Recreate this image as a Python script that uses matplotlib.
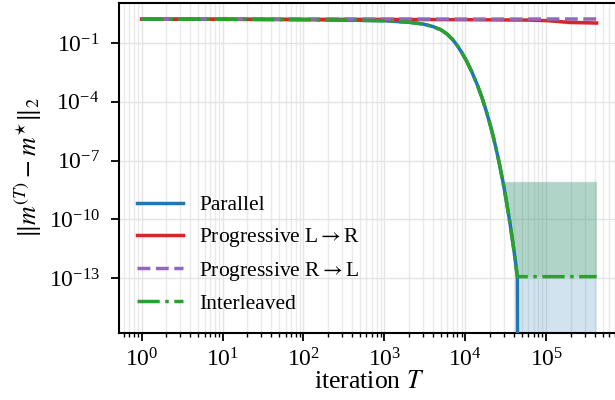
import numpy as np
import matplotlib
matplotlib.use("Agg")
import matplotlib.pyplot as plt
from matplotlib.ticker import FixedLocator, NullLocator, LogFormatterSciNotation

plt.rcParams['font.family'] = 'serif'
plt.rcParams['font.serif'] = ['Liberation Serif', 'DejaVu Serif']
plt.rcParams['mathtext.fontset'] = 'stix'

# ---- data ----
T_par = [1, 10, 100, 300, 1000, 1500, 2000, 3000, 4000, 5000, 6000, 7000, 8000, 9000,
         10000, 10520, 12000, 14000, 16000, 18000, 20000, 22000, 24000, 26000, 28000,
         30000, 32000, 34000, 36000, 38000, 40000, 42000, 44000, 44800, 420000]
err_par = [1.65, 1.62, 1.55, 1.48, 1.37, 1.23, 1.15, 0.93, 0.69, 0.47, 0.28, 0.148, 0.072, 0.034,
           0.0158, 0.0107, 3.5e-3, 7.8e-4, 1.74e-4, 3.8e-5, 8.5e-6, 1.9e-6, 4.2e-7, 9.3e-8, 2.0e-8,
           4.6e-9, 1.0e-9, 2.2e-10, 5.0e-11, 1.1e-11, 2.5e-12, 5.4e-13, 1.2e-13, 1e-30, 1e-30]

T_int = [1, 10, 100, 300, 1000, 1500, 2000, 3000, 4000, 5000, 6000, 7000, 8000, 9000,
         10000, 10520, 12000, 14000, 16000, 18000, 20000, 22000, 24000, 26000, 28000,
         30000, 32000, 34000, 36000, 38000, 40000, 42000, 44000, 420000]
err_int = [1.65, 1.62, 1.55, 1.48, 1.37, 1.23, 1.15, 0.93, 0.69, 0.47, 0.28, 0.148, 0.072, 0.034,
           0.0158, 0.0107, 3.5e-3, 7.8e-4, 1.74e-4, 3.8e-5, 8.5e-6, 1.9e-6, 4.2e-7, 9.3e-8, 2.0e-8,
           4.6e-9, 1.0e-9, 2.2e-10, 5.0e-11, 1.1e-11, 2.5e-12, 5.4e-13, 1.2e-13, 1.2e-13]

T_lr = [1, 10, 100, 1000, 10000, 60000, 106000, 190000, 420000]
err_lr = [1.65, 1.64, 1.62, 1.6, 1.55, 1.48, 1.37, 1.14, 1.05]
err_lr_lo = [1.65, 1.64, 1.62, 1.6, 1.55, 1.45, 1.25, 0.9, 0.87]

T_rl = [1, 10, 100, 1000, 10000, 100000, 420000]
err_rl = [1.65, 1.65, 1.65, 1.66, 1.66, 1.67, 1.68]

band_top = 8.3e-9

x_major_ticks = [1e0, 1e1, 1e2, 1e3, 1e4, 1e5]
y_major_ticks = [1e-13, 1e-10, 1e-7, 1e-4, 1e-1]

labels = ['Parallel', r'Progressive L$\rightarrow$R', r'Progressive R$\rightarrow$L', 'Interleaved']
colors = ['#1f77b4', '#d62728', '#9467bd', '#2ca02c']

# ---- figure ----
fig = plt.figure(figsize=(6.15, 4.0), dpi=100)
ax = fig.add_axes([119 / 615, 67 / 400, 500 / 615, 330 / 400])
ax.set_xscale('log')
ax.set_yscale('log')

lw = 2.5
ax.plot(T_par, err_par, color=colors[0], lw=lw, ls='-', label=labels[0], zorder=3)
ax.plot(T_lr, err_lr, color=colors[1], lw=lw, ls='-', label=labels[1], zorder=3)
ax.plot(T_rl, err_rl, color=colors[2], lw=lw, ls='--', label=labels[2], zorder=3)
ax.plot(T_int, err_int, color=colors[3], lw=lw, ls='-.', label=labels[3], zorder=3)

# uncertainty bands
for T, e, c in [(T_par, err_par, colors[0]), (T_int, err_int, colors[3])]:
    T = np.array(T, float)
    e = np.array(e, float)
    ax.fill_between(T, e, band_top, where=e <= band_top, interpolate=True,
                    color=c, alpha=0.2, lw=0, zorder=1)
ax.fill_between(T_lr, err_lr_lo, err_lr, color=colors[1], alpha=0.2, lw=0, zorder=1)

ax.set_ylim(1.6e-16, 11)
ax.set_xlim(10 ** -0.28, 10 ** 5.9)

minor_x = [m * d for d in [1e-1, 1e0, 1e1, 1e2, 1e3, 1e4, 1e5] for m in range(2, 10)]
minor_x = [v for v in minor_x if 10 ** -0.28 <= v <= 10 ** 5.9]
ax.xaxis.set_major_locator(FixedLocator(x_major_ticks))
ax.xaxis.set_major_formatter(LogFormatterSciNotation())
ax.xaxis.set_minor_locator(FixedLocator(minor_x))
ax.yaxis.set_major_locator(FixedLocator(y_major_ticks))
ax.yaxis.set_major_formatter(LogFormatterSciNotation())
ax.yaxis.set_minor_locator(NullLocator())

ax.grid(True, which='major', color='#e4e4e4', lw=1.0, zorder=0)
ax.grid(True, which='minor', axis='x', color='#eaeaea', lw=1.0, zorder=0)
ax.set_axisbelow(True)

ax.tick_params(which='major', direction='out', length=6, width=1.3, labelsize=17, colors='black')
ax.tick_params(axis='y', which='major', pad=8)
ax.tick_params(axis='x', which='major', pad=5)
ax.tick_params(which='minor', direction='out', length=3, width=1.0, labelbottom=False)
for s in ax.spines.values():
    s.set_linewidth(1.5)

ax.set_xlabel(r'iteration $T$', fontsize=18.5, labelpad=0)
ax.set_ylabel(r'$\|m^{(T)} - m^{\star}\|_2$', fontsize=18.5, labelpad=3)

ax.legend(loc='center left', bbox_to_anchor=(0.018, 0.238), frameon=False,
          fontsize=15.5, handlelength=2.15, handletextpad=0.75, labelspacing=0.5,
          borderaxespad=0)

fig.savefig('out.png', dpi=100)
